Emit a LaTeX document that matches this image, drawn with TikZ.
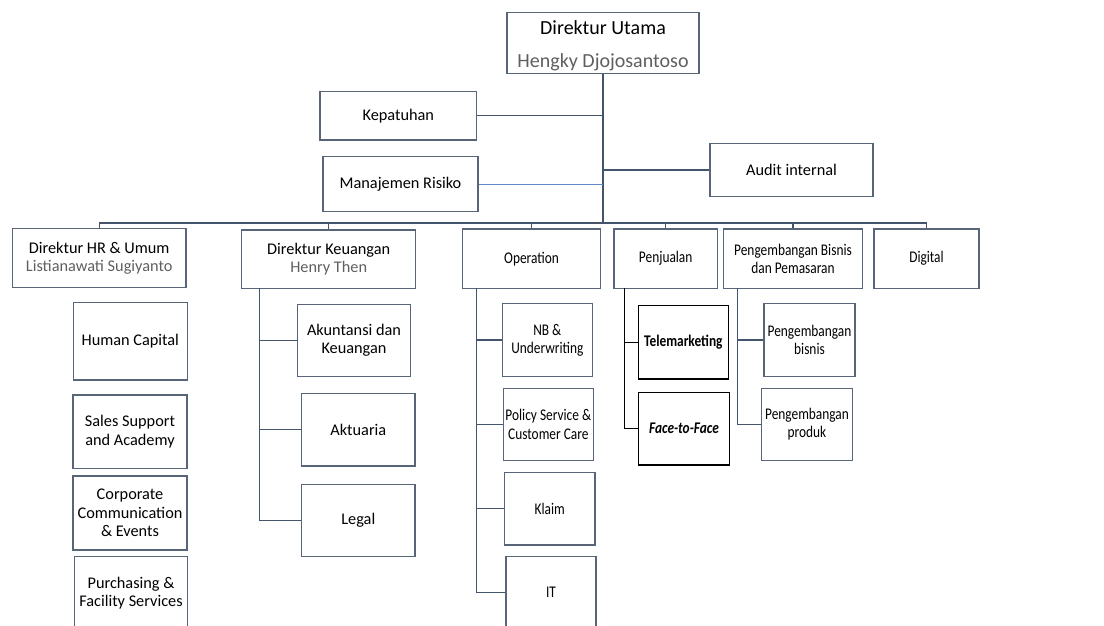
\documentclass[tikz,border=0pt]{standalone}
\usepackage{fontspec}
\setmainfont{Carlito}
\newfontfamily\narrowfont{Carlito}[FakeStretch=0.82]
\usepackage{tikz}
\usetikzlibrary{calc}

\definecolor{slate}{RGB}{68,84,106}
\definecolor{boxline}{RGB}{88,100,120}
\definecolor{namegray}{RGB}{95,95,95}
\definecolor{riskblue}{RGB}{95,140,200}

\tikzset{
  unit/.style={draw=boxline, line width=1.2pt, inner sep=0pt, align=center,
    font=\fontsize{16.3}{18.3}\selectfont},
  narrowunit/.style={unit, font=\fontsize{16.3}{18.3}\selectfont\narrowfont},
  chief/.style={unit, font=\fontsize{20}{33}\selectfont},
  salesunit/.style={unit, draw=black, font=\fontsize{16.3}{18.3}\selectfont\narrowfont\bfseries},
  dims/.style 2 args={minimum width=#1pt, minimum height=#2pt},
  link/.style={draw=slate, line width=1.3pt},
  trunk/.style={draw=slate, line width=2pt},
  salesline/.style={draw=black, line width=1.2pt},
}

\begin{document}
\begin{tikzpicture}[x=1pt, y=-1pt]
    \useasboundingbox (0,0) rectangle (1104,626);

    % Top of the organisation
    \node[chief, dims={192}{61}] (dirut) at (603,42.7)
        {\rule{0pt}{21pt}Direktur Utama\\\textcolor{namegray}{Hengky Djojosantoso}};
    \coordinate (bus) at (603,223);
    \draw[trunk] (dirut.south) -- (bus);

    % Staff units beside the trunk
    \node[unit, dims={156.7}{48.3}] (kep) at (398.3,115.8) {Kepatuhan};
    \node[unit, dims={155}{55}] (risk) at (400.5,184.2) {Manajemen Risiko};
    \node[unit, dims={163}{53.4}] (audit) at (791.5,170) {Audit internal};
    \draw[link] (kep.east) -- (kep.east -| dirut.south);
    \draw[link, draw=riskblue, line width=1pt] (risk.east) -- (risk.east -| dirut.south);
    \draw[link] (audit.west) -- (audit.west -| dirut.south);

    % Directorates on the bus
    \node[unit, dims={173.7}{59.4}] (hr) at (99.2,258)
        {Direktur HR \& Umum\\\textcolor{namegray}{Listianawati Sugiyanto}};
    \node[unit, dims={174}{58.3}] (keu) at (328.7,259.2)
        {Direktur Keuangan\\\textcolor{namegray}{Henry Then}};
    \node[narrowunit, dims={138.4}{59.3}] (ops) at (531.5,258.7) {Operation};
    \node[narrowunit, dims={103.3}{59.3}] (jual) at (665.7,258.7) {Penjualan};
    \node[narrowunit, dims={139.4}{59.3}] (pbp) at (793,258.7)
        {Pengembangan Bisnis\\dan Pemasaran};
    \node[narrowunit, dims={105}{59.3}] (dig) at (926.5,258.7) {Digital};

    \draw[link] (hr.north) -- (hr.north |- bus) -- (dig.north |- bus) -- (dig.north);
    \foreach \d in {keu, ops, jual, pbp}
        \draw[link] (\d.north) -- (\d.north |- bus);

    % HR units (no connectors)
    \node[unit, dims={114}{77.3}] (hc) at (130.3,341.3) {Human Capital};
    \node[unit, dims={114}{73.3}] (ssa) at (130,431.7) {Sales Support\\and Academy};
    \node[unit, dims={114}{74}] (cce) at (130,513) {Corporate\\Communication\\\& Events};
    \node[unit, dims={113.4}{73}] (pfs) at (131,593.2) {Purchasing \&\\Facility Services};

    % Finance units
    \node[unit, dims={113.4}{72.4}] (akun) at (354,340.5) {Akuntansi dan\\Keuangan};
    \node[unit, dims={113.3}{72.7}] (akt) at (358.3,429.7) {Aktuaria};
    \node[unit, dims={113.3}{72.4}] (legal) at (358.3,520.5) {Legal};
    \coordinate (keuT) at (259.3,288.4);
    \draw[link] (keuT) |- (legal.west);
    \foreach \u in {akun, akt}
        \draw[link] (\u.west) -- (\u.west -| keuT);

    % Operation units
    \node[narrowunit, dims={90}{73.4}] (nbu) at (547.3,340) {NB \&\\Underwriting};
    \node[narrowunit, dims={90}{72.4}] (psc) at (548.3,424.5) {Policy Service \&\\Customer Care};
    \node[narrowunit, dims={90.7}{72.7}] (klaim) at (549.7,508.7) {Klaim};
    \node[narrowunit, dims={90}{73}] (it) at (551,592.6) {IT};
    \coordinate (opsT) at (476.3,288.4);
    \draw[link] (opsT) |- (it.west);
    \foreach \u in {nbu, psc, klaim}
        \draw[link] (\u.west) -- (\u.west -| opsT);

    % Sales units
    \node[salesunit, dims={90}{73.3}] (tele) at (683.3,342.3) {Telemarketing};
    \node[salesunit, dims={90.6}{72.7}] (f2f) at (684,428.7) {\itshape Face-to-Face};
    \coordinate (jualT) at (624.7,288.4);
    \draw[salesline] (jualT) |- (f2f.west);
    \draw[salesline] (tele.west) -- (tele.west -| jualT);

    % Business development units
    \node[narrowunit, dims={91}{73.4}] (pbis) at (809.5,340) {Pengembangan\\bisnis};
    \node[narrowunit, dims={90.6}{72.4}] (pprod) at (807,424.5) {Pengembangan\\produk};
    \coordinate (pbpT) at (737.3,288.4);
    \draw[link] (pbpT) |- (pprod.west);
    \draw[link] (pbis.west) -- (pbis.west -| pbpT);
\end{tikzpicture}
\end{document}
